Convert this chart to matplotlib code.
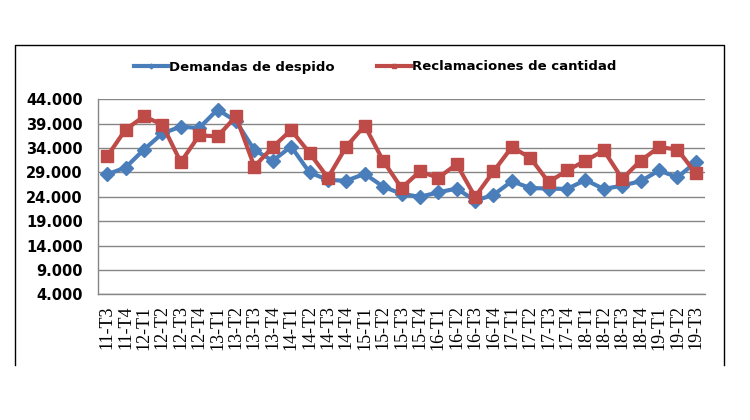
import matplotlib.pyplot as plt
from matplotlib.lines import Line2D
from matplotlib.ticker import FuncFormatter

# trimestres
periodos = ['11-T3', '11-T4',
            '12-T1', '12-T2', '12-T3', '12-T4',
            '13-T1', '13-T2', '13-T3', '13-T4',
            '14-T1', '14-T2', '14-T3', '14-T4',
            '15-T1', '15-T2', '15-T3', '15-T4',
            '16-T1', '16-T2', '16-T3', '16-T4',
            '17-T1', '17-T2', '17-T3', '17-T4',
            '18-T1', '18-T2', '18-T3', '18-T4',
            '19-T1', '19-T2', '19-T3']

demandas_despido = [28600, 30000, 33700, 37000, 38400, 38100, 41900, 39500,
                    33600, 31400, 34300, 29000, 27450, 27300, 28700, 26100,
                    24600, 24000, 24900, 25700, 23200, 24400, 27200, 25800,
                    25700, 25600, 27450, 25600, 26300, 27200, 29400, 28000,
                    31100]

reclamaciones_cantidad = [32300, 37800, 40500, 38800, 31100, 36600, 36400, 40500,
                          30200, 34200, 37700, 33000, 27900, 34300, 38600, 31400,
                          25800, 29200, 27900, 30700, 24000, 29200, 34200, 32000,
                          27000, 29400, 31400, 33500, 27700, 31400, 34200, 33700,
                          28800]

y_ticks = list(range(4000, 44001, 5000))

azul = '#4A7EBB'
rojo = '#BE4B48'
gris = '#868686'

fig = plt.figure(figsize=(7.5, 4.2), dpi=100)
ax = fig.add_axes([98 / 750, 1 - 294.3 / 420, 607 / 750, 195 / 420])

x = range(len(periodos))
ax.plot(x, demandas_despido, color=azul, lw=3, marker='D', markersize=7,
        label='Demandas de despido', zorder=3)
ax.plot(x, reclamaciones_cantidad, color=rojo, lw=3, marker='s', markersize=9,
        label='Reclamaciones de cantidad', zorder=4)

ax.set_xlim(-0.5, len(periodos) - 0.5)
ax.set_ylim(4000, 44000)
ax.set_yticks(y_ticks)
ax.yaxis.set_major_formatter(FuncFormatter(lambda v, p: f'{int(v):,}'.replace(',', '.')))
ax.grid(axis='y', color=gris, lw=1)
ax.set_axisbelow(True)

ax.set_xticks(list(x))
ax.set_xticklabels(periodos, rotation=90, family='Liberation Serif', fontsize=13)
for lbl in ax.get_yticklabels():
    lbl.set_fontweight('bold')
    lbl.set_fontsize(10.5)
ax.tick_params(axis='y', length=0, pad=11)
ax.tick_params(axis='x', length=0, pad=8)

for s in ['top', 'right']:
    ax.spines[s].set_visible(False)
for s in ['left', 'bottom']:
    ax.spines[s].set_color(gris)
    ax.spines[s].set_linewidth(1)

# leyenda arriba
fig.legend(loc='center', bbox_to_anchor=(0.5, 1 - 67 / 420), ncol=2, frameon=False,
           prop={'weight': 'bold', 'size': 9.5}, handlelength=2.6,
           handletextpad=0.05, columnspacing=3.2, markerscale=0.35)

# marco del gráfico (recortado abajo)
W, H = 750, 420
pts = [(15, 365), (15, 45), (724, 45), (724, 365)]
fig.add_artist(Line2D([p[0] / W for p in pts], [1 - p[1] / H for p in pts],
                      color='black', lw=1, transform=fig.transFigure))

fig.savefig('out.png', dpi=100)
